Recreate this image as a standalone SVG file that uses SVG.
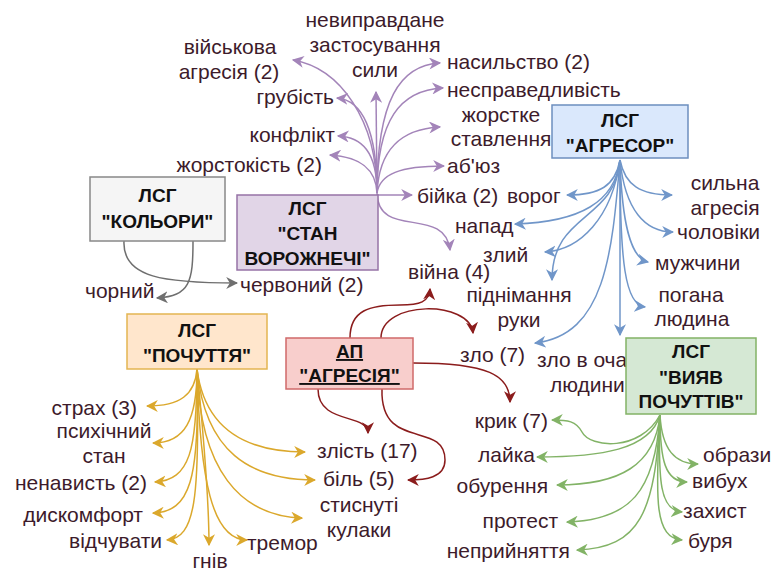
<svg xmlns="http://www.w3.org/2000/svg" width="773" height="571" viewBox="0 0 773 571">
<style>
text{font-family:"Liberation Sans",Arial,sans-serif;font-size:21px;fill:#3d1b2b}
.b text{font-weight:bold;font-size:19px;fill:#111}
.m{text-anchor:middle}.e{text-anchor:end}.s{text-anchor:start}
.c path{fill:none;stroke-width:1.5}
.pu path{stroke:#a384b9}.bl path{stroke:#7096c9}.or path{stroke:#dba82c}.gr path{stroke:#82b366}.rd path{stroke:#8b1c1c}.gy path{stroke:#6f6f6f}
.pu path{marker-end:url(#mpu)}.bl path{marker-end:url(#mbl)}.or path{marker-end:url(#mor)}.gr path{marker-end:url(#mgr)}.rd path{marker-end:url(#mrd)}.gy path{marker-end:url(#mgy)}
</style>
<defs>
<marker id="mpu" viewBox="0 0 10 10" refX="9" refY="5" markerWidth="12" markerHeight="12" markerUnits="userSpaceOnUse" orient="auto"><path d="M0,0 L10,5 L0,10 L3,5z" fill="#a384b9"/></marker>
<marker id="mbl" viewBox="0 0 10 10" refX="9" refY="5" markerWidth="12" markerHeight="12" markerUnits="userSpaceOnUse" orient="auto"><path d="M0,0 L10,5 L0,10 L3,5z" fill="#7096c9"/></marker>
<marker id="mor" viewBox="0 0 10 10" refX="9" refY="5" markerWidth="12" markerHeight="12" markerUnits="userSpaceOnUse" orient="auto"><path d="M0,0 L10,5 L0,10 L3,5z" fill="#dba82c"/></marker>
<marker id="mgr" viewBox="0 0 10 10" refX="9" refY="5" markerWidth="12" markerHeight="12" markerUnits="userSpaceOnUse" orient="auto"><path d="M0,0 L10,5 L0,10 L3,5z" fill="#82b366"/></marker>
<marker id="mrd" viewBox="0 0 10 10" refX="9" refY="5" markerWidth="12" markerHeight="12" markerUnits="userSpaceOnUse" orient="auto"><path d="M0,0 L10,5 L0,10 L3,5z" fill="#8b1c1c"/></marker>
<marker id="mgy" viewBox="0 0 10 10" refX="9" refY="5" markerWidth="12" markerHeight="12" markerUnits="userSpaceOnUse" orient="auto"><path d="M0,0 L10,5 L0,10 L3,5z" fill="#6f6f6f"/></marker>
</defs>

<g id="connectors" class="c">
<g class="pu">
<path d="M377,193 C377,120 340,68 293,60"/>
<path d="M377,193 C377,130 362,100 337,98"/>
<path d="M377,193 C377,152 362,137 338,136"/>
<path d="M377,193 C376,170 362,157 330,155"/>
<path d="M377,193 L376,92"/>
<path d="M377,193 C377,100 400,65 440,63"/>
<path d="M377,193 C377,120 400,90 443,88"/>
<path d="M377,193 C379,150 400,129 440,127"/>
<path d="M377,193 C380,174 400,166 444,166"/>
<path d="M377,195 L412,195"/>
<path d="M377,193 C378,240 445,205 450,250"/>
</g>
<g class="bl">
<path d="M620,160 C615,186 600,195 567,195"/>
<path d="M620,160 C615,202 580,222 515,224"/>
<path d="M620,160 C612,218 580,250 545,252"/>
<path d="M620,160 C615,222 552,212 552,280"/>
<path d="M620,160 C612,255 605,335 535,343"/>
<path d="M620,160 L620,335"/>
<path d="M620,160 C625,185 640,195 672,195"/>
<path d="M620,160 C625,210 645,232 673,232"/>
<path d="M620,160 C622,222 630,258 648,262"/>
<path d="M620,160 C620,262 625,305 645,307"/>
</g>
<g class="gy">
<path d="M124,241 C122,278 165,283 237,283"/>
<path d="M193,241 C193,282 190,296 157,298"/>
</g>
<g class="or">
<path d="M197,369 C195,395 180,406 147,406"/>
<path d="M197,369 C197,420 185,443 153,443"/>
<path d="M197,369 C197,450 190,480 155,482"/>
<path d="M197,369 C200,480 190,512 153,513"/>
<path d="M197,369 C200,500 195,538 167,540"/>
<path d="M197,369 C205,450 209,500 209,545"/>
<path d="M197,369 C200,480 212,540 247,540"/>
<path d="M197,369 C205,432 250,452 305,452"/>
<path d="M197,369 C205,452 250,480 315,480"/>
<path d="M197,369 C200,470 240,516 302,518"/>
</g>
<g class="rd">
<path d="M350,338 C350,310 370,305 400,305 C420,305 429,302 430,289"/>
<path d="M381,338 C381,300 470,300 473,333"/>
<path d="M413,363 C488,363 510,375 510,402"/>
<path d="M318,389 C318,425 368,413 368,433"/>
<path d="M382,389 C380,452 445,420 445,460 C445,478 425,480 408,480"/>
</g>
<g class="gr">
<path d="M660,415 C640,452 590,448 582,432 C576,421 568,420 552,420"/>
<path d="M660,415 C650,450 600,457 537,457"/>
<path d="M660,415 C655,465 620,485 557,485"/>
<path d="M660,415 C655,492 630,520 567,522"/>
<path d="M660,415 C655,512 640,548 577,550"/>
<path d="M660,415 C662,450 675,464 698,464"/>
<path d="M660,415 C660,460 665,482 687,482"/>
<path d="M660,415 C658,482 660,510 682,512"/>
<path d="M660,415 C655,502 655,538 682,540"/>
</g>
</g>

<g id="leaf-nevypravdane"><text class="m" x="375" y="27">невиправдане</text><text class="m" x="375" y="52">застосування</text><text class="m" x="375" y="77">сили</text></g>
<g id="leaf-viiskova"><text class="m" x="230" y="54">військова</text><text class="m" x="229" y="79">агресія (2)</text></g>
<g id="leaf-hrubist"><text class="e" x="334" y="104">грубість</text></g>
<g id="leaf-konflikt"><text class="e" x="335" y="142">конфлікт</text></g>
<g id="leaf-zhorstokist"><text class="e" x="322" y="172">жорстокість (2)</text></g>
<g id="leaf-nasylstvo"><text class="s" x="447" y="69">насильство (2)</text></g>
<g id="leaf-nespravedlyvist"><text class="s" x="447" y="97">несправедливість</text></g>
<g id="leaf-zhorstke"><text class="m" x="501" y="122">жорстке</text><text class="m" x="501" y="146">ставлення</text></g>
<g id="leaf-abiuz"><text class="s" x="447" y="173">аб'юз</text></g>
<g id="leaf-biika"><text class="s" x="417" y="203">бійка (2)</text></g>
<g id="leaf-voroh"><text class="s" x="507" y="203">ворог</text></g>
<g id="leaf-napad"><text class="s" x="455" y="233">напад</text></g>
<g id="leaf-zlyi"><text class="s" x="483" y="262">злий</text></g>
<g id="leaf-pidnimannia"><text class="m" x="519" y="302">піднімання</text><text class="m" x="519" y="327">руки</text></g>
<g id="leaf-zlo7"><text class="s" x="460" y="362">зло (7)</text></g>
<g id="leaf-zlo-v-ochakh"><text class="s" x="537" y="367">зло в оча</text><text class="s" x="550" y="392">людини</text></g>
<g id="leaf-sylna"><text class="m" x="725" y="190">сильна</text><text class="m" x="725" y="215">агресія</text></g>
<g id="leaf-cholovik"><text class="s" x="677" y="239">чоловіки</text></g>
<g id="leaf-muzhchyny"><text class="s" x="655" y="270">мужчини</text></g>
<g id="leaf-pohana"><text class="m" x="691" y="302">погана</text><text class="m" x="692" y="326">людина</text></g>
<g id="leaf-viina"><text class="s" x="408" y="279">війна (4)</text></g>
<g id="leaf-chervonyi"><text class="s" x="240" y="292">червоний (2)</text></g>
<g id="leaf-chornyi"><text class="s" x="85" y="298">чорний</text></g>
<g id="leaf-strakh"><text class="e" x="137" y="415">страх (3)</text></g>
<g id="leaf-psykhichnyi"><text class="m" x="104" y="438">психічний</text><text class="m" x="104" y="463">стан</text></g>
<g id="leaf-nenavyst"><text class="e" x="147" y="490">ненависть (2)</text></g>
<g id="leaf-dyskomfort"><text class="e" x="143" y="522">дискомфорт</text></g>
<g id="leaf-vidchuvaty"><text class="e" x="162" y="548">відчувати</text></g>
<g id="leaf-hniv"><text class="m" x="210" y="568">гнів</text></g>
<g id="leaf-tremor"><text class="s" x="247" y="550">тремор</text></g>
<g id="leaf-zlist"><text class="s" x="317" y="458">злість (17)</text></g>
<g id="leaf-bil"><text class="s" x="323" y="486">біль (5)</text></g>
<g id="leaf-stysnuti"><text class="m" x="359" y="512">стиснуті</text><text class="m" x="359" y="537">кулаки</text></g>
<g id="leaf-kryk"><text class="e" x="548" y="428">крик (7)</text></g>
<g id="leaf-laika"><text class="e" x="535" y="462">лайка</text></g>
<g id="leaf-oburennia"><text class="e" x="548" y="493">обурення</text></g>
<g id="leaf-protest"><text class="e" x="558" y="528">протест</text></g>
<g id="leaf-nepryiniattia"><text class="e" x="570" y="558">неприйняття</text></g>
<g id="leaf-obrazy"><text class="s" x="703" y="462">образи</text></g>
<g id="leaf-vybukh"><text class="s" x="692" y="488">вибух</text></g>
<g id="leaf-zakhyst"><text class="s" x="683" y="518">захист</text></g>
<g id="leaf-buria"><text class="s" x="688" y="548">буря</text></g>

<g id="node-kolory" class="b"><rect x="90" y="177" width="135" height="64" fill="#f5f5f5" stroke="#888" stroke-width="1.5"/><text class="m" x="157.5" y="202">ЛСГ</text><text class="m" x="157.5" y="228">"КОЛЬОРИ"</text></g>
<g id="node-stan" class="b"><rect x="237" y="195" width="141" height="75" fill="#e1d5e7" stroke="#9673a6" stroke-width="1.5"/><text class="m" x="307.5" y="215">ЛСГ</text><text class="m" x="307.5" y="240">"СТАН</text><text class="m" x="307.5" y="265">ВОРОЖНЕЧІ"</text></g>
<g id="node-ahresor" class="b"><rect x="552" y="105" width="136" height="53" fill="#dae8fc" stroke="#6c8ebf" stroke-width="1.5"/><text class="m" x="620" y="127">ЛСГ</text><text class="m" x="620" y="152">"АГРЕСОР"</text></g>
<g id="node-pochuttia" class="b"><rect x="127" y="314" width="140" height="55" fill="#ffe6cc" stroke="#e3b552" stroke-width="1.5"/><text class="m" x="197" y="337">ЛСГ</text><text class="m" x="197" y="362">"ПОЧУТТЯ"</text></g>
<g id="node-ap" class="b"><rect x="286" y="338" width="127" height="51" fill="#f8cecc" stroke="#d06a6a" stroke-width="1.5"/><text class="m" x="349.5" y="358" text-decoration="underline">АП</text><text class="m" x="349.5" y="382" text-decoration="underline">"АГРЕСІЯ"</text></g>
<g id="node-vyiav" class="b"><rect x="626" y="338" width="130" height="76" fill="#d5e8d4" stroke="#82b366" stroke-width="1.5"/><text class="m" x="691" y="358">ЛСГ</text><text class="m" x="691" y="384">"ВИЯВ</text><text class="m" x="691" y="408">ПОЧУТТІВ"</text></g>
</svg>
